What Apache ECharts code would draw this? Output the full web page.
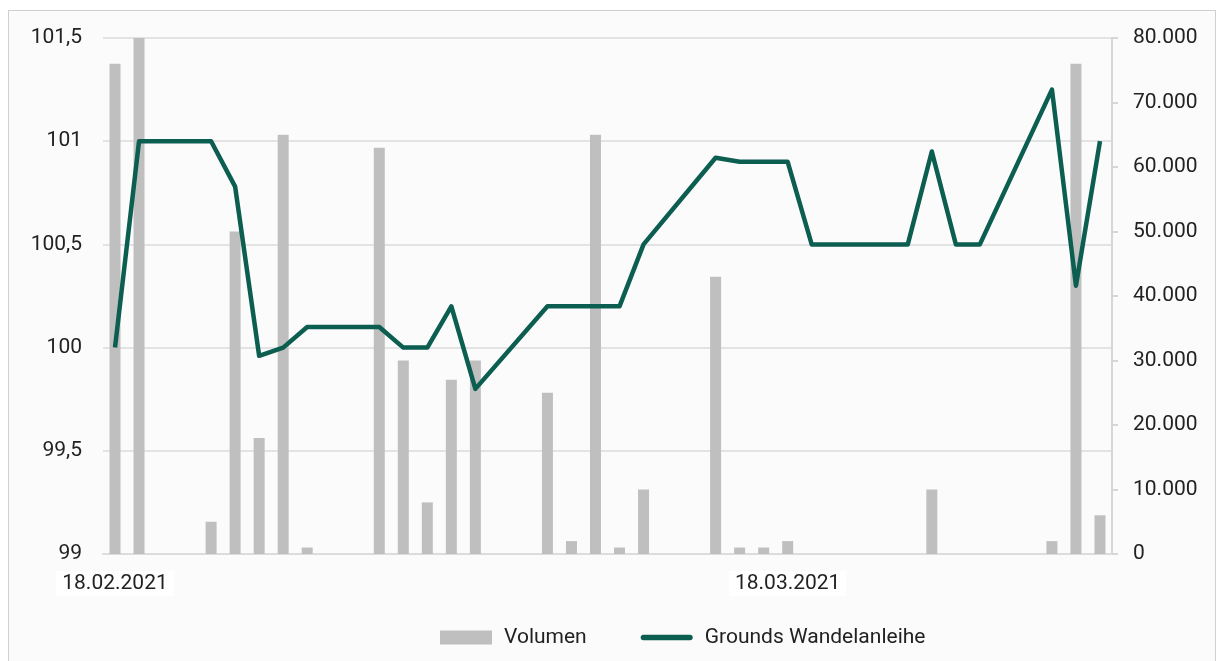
<!DOCTYPE html>
<html>
<head>
<meta charset="utf-8">
<script src="https://cdn.jsdelivr.net/npm/echarts@6/dist/echarts.min.js"></script>
<style>
  html, body { margin: 0; padding: 0; background: #ffffff; }
  #card { position: absolute; left: 8px; top: 10px; width: 1206px; height: 660px; border: 1px solid #cfcfcf; background: #fbfbfb; }
  #chart { position: absolute; left: 0; top: 0; width: 1217px; height: 661px; }
</style>
</head>
<body>
<div id="card"></div>
<div id="chart"></div>
<script>
// Trading days (dd.mm.yyyy)
const tradingDates = [
  '18.02.2021','19.02.2021','22.02.2021','23.02.2021','24.02.2021','25.02.2021','26.02.2021',
  '01.03.2021','02.03.2021','03.03.2021','04.03.2021','05.03.2021',
  '08.03.2021','09.03.2021','10.03.2021','11.03.2021','12.03.2021',
  '15.03.2021','16.03.2021','17.03.2021','18.03.2021','19.03.2021',
  '22.03.2021','23.03.2021','24.03.2021','25.03.2021','26.03.2021',
  '29.03.2021','30.03.2021','31.03.2021'
];
// Price of "Grounds Wandelanleihe"
const priceValues = [
  100.0, 101.0, 101.0, 100.78, 99.96, 100.0, 100.1,
  100.1, 100.0, 100.0, 100.2, 99.8,
  100.2, 100.2, 100.2, 100.2, 100.5,
  100.92, 100.9, 100.9, 100.9, 100.5,
  100.5, 100.5, 100.95, 100.5, 100.5,
  101.25, 100.3, 101.0
];
// Volume
const volumeValues = [
  76000, 80000, 5000, 50000, 18000, 65000, 1000,
  63000, 30000, 8000, 27000, 30000,
  25000, 2000, 65000, 1000, 10000,
  43000, 1000, 1000, 2000, 0,
  0, 0, 10000, 0, 0,
  2000, 76000, 6000
];
// Axis tick labels
const xTickLabels = ['18.02.2021', '18.03.2021'];
const leftTicks = [99, 99.5, 100, 100.5, 101, 101.5];
const rightTicks = [0, 10000, 20000, 30000, 40000, 50000, 60000, 70000, 80000];

// Calendar axis (every day between first and last trading day)
function parseD(s) { const p = s.split('.'); return new Date(Date.UTC(+p[2], +p[1] - 1, +p[0])); }
function fmtD(d) {
  const dd = String(d.getUTCDate()).padStart(2, '0');
  const mm = String(d.getUTCMonth() + 1).padStart(2, '0');
  return dd + '.' + mm + '.' + d.getUTCFullYear();
}
const calendar = [];
for (let t = parseD(tradingDates[0]).getTime(); t <= parseD(tradingDates[tradingDates.length - 1]).getTime(); t += 86400000) {
  calendar.push(fmtD(new Date(t)));
}
const priceData = calendar.map(c => { const i = tradingDates.indexOf(c); return i >= 0 ? priceValues[i] : null; });
const volumeData = calendar.map(c => { const i = tradingDates.indexOf(c); return i >= 0 ? volumeValues[i] : null; });

const FONT = 'Roboto, "Noto Sans", sans-serif';
const FS = 21;
const chart = echarts.init(document.getElementById('chart'));
chart.setOption({
  backgroundColor: 'transparent',
  animation: false,
  textStyle: { fontFamily: FONT },
  grid: { left: 103, right: 105, top: 38, bottom: 107 },
  legend: {
    left: 435, top: 622,
    itemWidth: 52, itemHeight: 14, itemGap: 54,
    textStyle: { fontSize: FS, color: '#222', fontFamily: FONT, padding: [0, 0, 0, 7] },
    data: [
      { name: 'Volumen', icon: 'rect' },
      { name: 'Grounds Wandelanleihe', icon: 'path://M3,0 L53,0 A3,3 0 0 1 53,6 L3,6 A3,3 0 0 1 3,0 Z' }
    ]
  },
  xAxis: {
    type: 'category',
    data: calendar,
    boundaryGap: true,
    axisLine: { show: true, lineStyle: { color: '#dcdcdc', width: 2 } },
    axisTick: { show: false },
    axisLabel: {
      interval: (idx, val) => xTickLabels.indexOf(val) >= 0,
      margin: 17,
      fontSize: FS,
      color: '#222',
      fontFamily: FONT,
      backgroundColor: '#ffffff',
      padding: [2, 6, 2, 6]
    },
    splitLine: { show: false }
  },
  yAxis: [
    {
      type: 'value',
      min: leftTicks[0], max: leftTicks[leftTicks.length - 1], interval: 0.5,
      position: 'left',
      axisLine: { show: false },
      axisTick: { show: false },
      axisLabel: { margin: 21, fontSize: FS, color: '#222', fontFamily: FONT,
        formatter: v => String(v).replace('.', ',') },
      splitLine: { show: true, lineStyle: { color: '#e3e3e3', width: 2 } }
    },
    {
      type: 'value',
      min: rightTicks[0], max: rightTicks[rightTicks.length - 1], interval: 10000,
      position: 'right',
      axisLine: { show: true, lineStyle: { color: '#d6d6d6', width: 2 } },
      axisTick: { show: true, length: 6, lineStyle: { color: '#d6d6d6', width: 2 } },
      axisLabel: { margin: 21, fontSize: FS, color: '#222', fontFamily: FONT,
        formatter: v => v === 0 ? '0' : (v / 1000) + '.000' },
      splitLine: { show: false }
    }
  ],
  series: [
    {
      name: 'Volumen',
      type: 'bar',
      yAxisIndex: 1,
      data: volumeData,
      barWidth: 11,
      itemStyle: { color: '#bfbfbf' },
      z: 1
    },
    {
      name: 'Grounds Wandelanleihe',
      type: 'line',
      yAxisIndex: 0,
      data: priceData,
      connectNulls: true,
      showSymbol: false,
      symbol: 'none',
      lineStyle: { color: '#0b5e50', width: 4.5, join: 'round' },
      itemStyle: { color: '#0b5e50' },
      z: 3
    }
  ]
});
</script>
</body>
</html>
